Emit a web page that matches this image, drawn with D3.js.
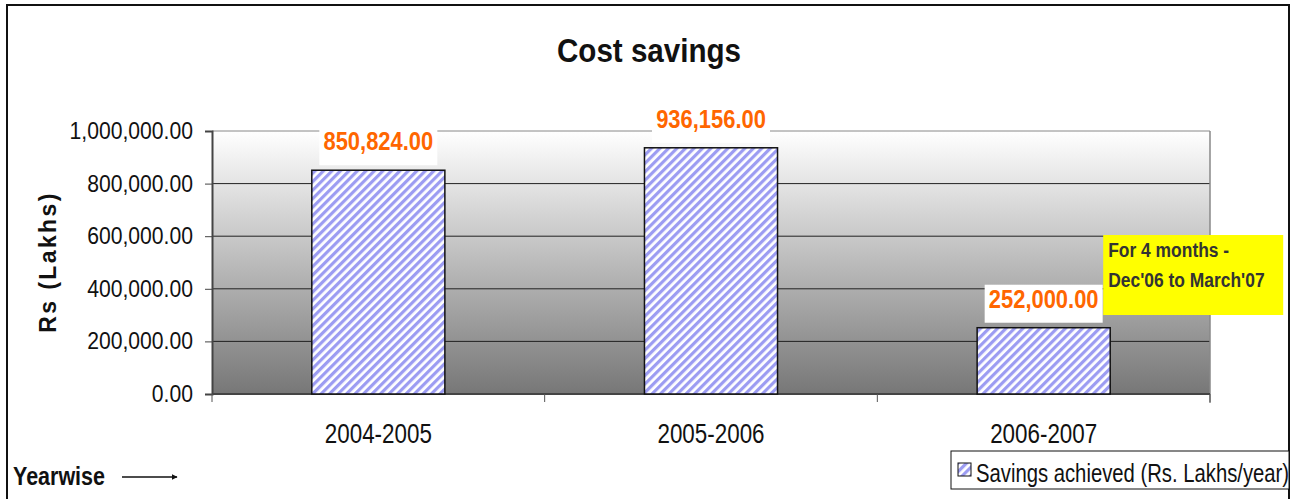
<!DOCTYPE html>
<meta charset="utf-8">
<style>
body { margin: 0; background: #fff; }
text { font-family: "Liberation Sans", Arial, sans-serif; }
</style>
<svg width="1298" height="499"></svg>
<script src="https://cdnjs.cloudflare.com/ajax/libs/d3/7.8.5/d3.min.js"></script>
<script>

var years = ["2004-2005", "2005-2006", "2006-2007"];
var savings = [850824, 936156, 252000];
var yTicks = [0, 200000, 400000, 600000, 800000, 1000000];
var seriesName = "Savings achieved (Rs. Lakhs/year)";
var noteLines = ["For 4 months -", "Dec'06 to March'07"];

var svg = d3.select("svg");

// the original fonts are narrow, so squeeze text sideways
function squeeze(tx, ty, sx) {
  return "translate(" + tx + "," + ty + ") scale(" + sx + ",1)";
}

var margin = {left: 212, right: 88, top: 131, bottom: 105};
var W = 1298, H = 499;

var x = d3.scaleBand()
    .domain(years)
    .range([margin.left, W - margin.right])
    .paddingInner(0.6)
    .paddingOuter(0.3);

var y = d3.scaleLinear()
    .domain([0, 1000000])
    .range([H - margin.bottom, margin.top]);

var fmt = d3.format(",.2f");

// outer frame
svg.append("rect")
    .attr("x", 7).attr("y", 5)
    .attr("width", 1282).attr("height", 510)
    .attr("fill", "none").attr("stroke", "#111").attr("stroke-width", 2);

var defs = svg.append("defs");
var grad = defs.append("linearGradient")
    .attr("id", "bg").attr("x1", 0).attr("y1", 0).attr("x2", 0).attr("y2", 1);
grad.append("stop").attr("offset", "0%").attr("stop-color", "#ffffff");
grad.append("stop").attr("offset", "100%").attr("stop-color", "#777777");

var pat = defs.append("pattern")
    .attr("id", "hatch")
    .attr("patternUnits", "userSpaceOnUse")
    .attr("width", 6).attr("height", 6)
    .attr("patternTransform", "rotate(45)");
pat.append("rect").attr("width", 6).attr("height", 6).attr("fill", "#ffffff");
pat.append("rect").attr("width", 3.2).attr("height", 6).attr("fill", "#9c9cf2");

// plot area
svg.append("rect")
    .attr("x", margin.left).attr("y", y(1000000))
    .attr("width", W - margin.right - margin.left)
    .attr("height", y(0) - y(1000000))
    .attr("fill", "url(#bg)");

// gridlines
svg.append("g").selectAll("line")
    .data(yTicks.slice(1))
    .enter().append("line")
    .attr("x1", margin.left).attr("x2", W - margin.right)
    .attr("y1", function(d) { return y(d); })
    .attr("y2", function(d) { return y(d); })
    .attr("stroke", function(d) { return d === 1000000 ? "#888" : "#222"; });

var yAxis = svg.append("g")
    .attr("transform", "translate(" + margin.left + ",0)")
    .call(d3.axisLeft(y).tickValues(yTicks).tickFormat(fmt).tickSize(7).tickPadding(12));
yAxis.select(".domain").attr("stroke", "#444").attr("stroke-width", 2);
yAxis.selectAll(".tick line").attr("stroke", "#444");
yAxis.selectAll("text")
    .attr("font-size", 23.5).attr("fill", "#111")
    .attr("font-family", "Liberation Sans, Arial, sans-serif")
    .attr("x", -19 / 0.9)
    .attr("transform", "scale(0.9,1)");

// right edge of plot
svg.append("line")
    .attr("x1", W - margin.right).attr("x2", W - margin.right)
    .attr("y1", y(1000000)).attr("y2", y(0) + 9)
    .attr("stroke", "#888").attr("stroke-width", 1.5);

// x axis baseline and ticks at band boundaries
svg.append("line")
    .attr("x1", margin.left).attr("x2", W - margin.right)
    .attr("y1", y(0)).attr("y2", y(0))
    .attr("stroke", "#444").attr("stroke-width", 2);

var step = x.step();
var bounds = d3.range(years.length + 1).map(function(i) {
  return margin.left + i * step;
});
svg.selectAll("line.xt")
    .data(bounds)
    .enter().append("line")
    .attr("class", "xt")
    .attr("x1", function(d) { return d; }).attr("x2", function(d) { return d; })
    .attr("y1", y(0)).attr("y2", y(0) + 8)
    .attr("stroke", "#555");

svg.selectAll("text.xl")
    .data(years)
    .enter().append("text")
    .attr("class", "xl")
    .attr("transform", function(d) {
      return squeeze(x(d) + x.bandwidth() / 2, y(0) + 49, 0.8);
    })
    .attr("text-anchor", "middle")
    .attr("font-size", 28).attr("fill", "#111")
    .text(function(d) { return d; });

// bars
var data = years.map(function(d, i) { return {year: d, value: savings[i]}; });

svg.selectAll("rect.bar")
    .data(data)
    .enter().append("rect")
    .attr("class", "bar")
    .attr("x", function(d) { return x(d.year); })
    .attr("y", function(d) { return y(d.value); })
    .attr("width", x.bandwidth())
    .attr("height", function(d) { return y(0) - y(d.value); })
    .attr("fill", "url(#hatch)")
    .attr("stroke", "#111").attr("stroke-width", 1.5);

// value labels with white boxes
var lab = svg.selectAll("g.lab")
    .data(data)
    .enter().append("g")
    .attr("class", "lab");

lab.append("rect")
    .attr("x", function(d) { return x(d.year) + x.bandwidth() / 2 - 59; })
    .attr("y", function(d) { return y(d.value) - 43; })
    .attr("width", 118).attr("height", 38)
    .attr("fill", "#fff");

lab.append("text")
    .attr("transform", function(d) {
      return squeeze(x(d.year) + x.bandwidth() / 2, y(d.value) - 20, 0.86);
    })
    .attr("text-anchor", "middle")
    .attr("font-size", 25.5).attr("font-weight", "bold")
    .attr("fill", "#ff6600")
    .text(function(d) { return fmt(d.value); });

// note box
var noteX = x(years[2]) + x.bandwidth() - 7;
var note = svg.append("g").attr("transform", "translate(" + noteX + ",235)");
note.append("rect")
    .attr("width", 180).attr("height", 80)
    .attr("fill", "#ffff00");
note.selectAll("text")
    .data(noteLines)
    .enter().append("text")
    .attr("transform", function(d, i) { return squeeze(5, 22 + i * 30, 0.85); })
    .attr("font-size", 20.5).attr("font-weight", "bold")
    .attr("fill", "#333")
    .text(function(d) { return d; });

// title
svg.append("text")
    .attr("transform", squeeze(649, 62, 0.87))
    .attr("text-anchor", "middle")
    .attr("font-size", 34).attr("font-weight", "bold")
    .attr("fill", "#111")
    .text("Cost savings");

// y axis title
svg.append("text")
    .attr("transform", "translate(56,262) rotate(-90)")
    .attr("text-anchor", "middle")
    .attr("font-size", 23).attr("font-weight", "bold")
    .attr("letter-spacing", 2.4)
    .attr("fill", "#111")
    .text("Rs (Lakhs)");

// Yearwise arrow label
svg.append("text")
    .attr("transform", squeeze(13, 485, 0.86))
    .attr("font-size", 25).attr("font-weight", "bold")
    .attr("fill", "#111")
    .text("Yearwise");
defs.append("marker")
    .attr("id", "arr").attr("viewBox", "0 0 10 10")
    .attr("refX", 9).attr("refY", 5)
    .attr("markerWidth", 4).attr("markerHeight", 4)
    .attr("orient", "auto")
    .append("path").attr("d", "M0,0L10,5L0,10z").attr("fill", "#111");
svg.append("line")
    .attr("x1", 122).attr("x2", 177).attr("y1", 477).attr("y2", 477)
    .attr("stroke", "#111").attr("stroke-width", 1.5)
    .attr("marker-end", "url(#arr)");

// legend
var leg = svg.append("g").attr("transform", "translate(951,451)");
leg.append("rect")
    .attr("width", 338).attr("height", 38)
    .attr("fill", "#fff").attr("stroke", "#111").attr("stroke-width", 1);
leg.append("rect")
    .attr("x", 7).attr("y", 12).attr("width", 13).attr("height", 13)
    .attr("fill", "url(#hatch)").attr("stroke", "#111");
leg.append("text")
    .attr("transform", squeeze(25, 31, 0.78))
    .attr("font-size", 26).attr("fill", "#111")
    .text(seriesName);

</script>
